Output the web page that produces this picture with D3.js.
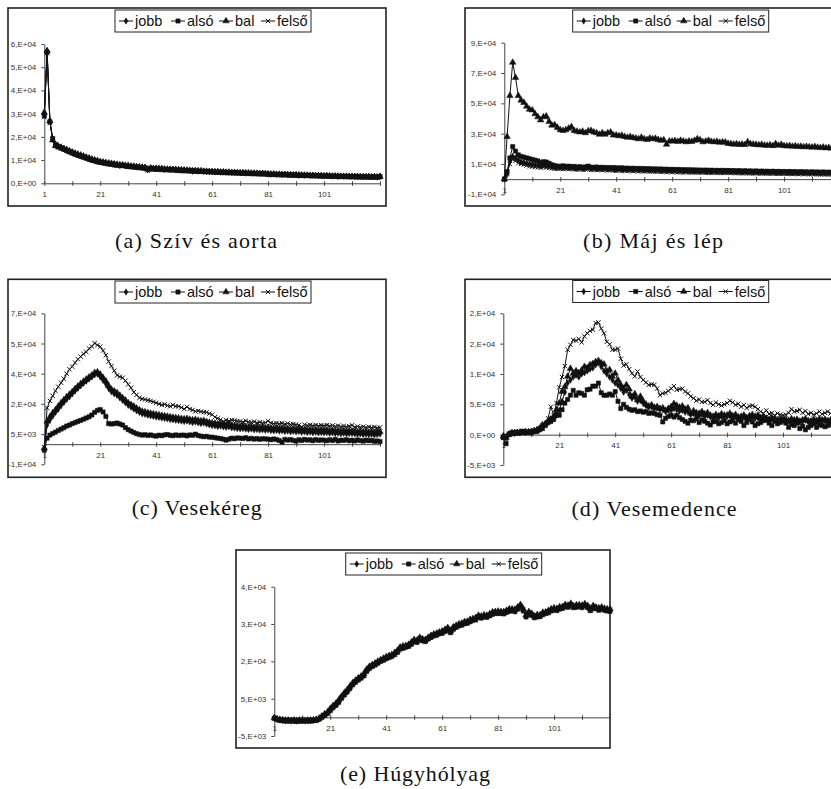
<!DOCTYPE html>
<html>
<head>
<meta charset="utf-8">
<script src="https://cdn.jsdelivr.net/npm/d3@7"></script>
<style>
  body { margin: 0; background: #fff; }
  .tick text { font-family: "Liberation Sans", Arial, sans-serif; font-size: 8px; fill: #333; }
  .legend text { font-family: "Liberation Sans", Arial, sans-serif; font-size: 14.5px; fill: #111; }
  .caption { font-family: "Liberation Serif", "DejaVu Serif", serif; font-size: 22px; fill: #111; }
</style>
</head>
<body>
<svg id="chart" width="831" height="789"></svg>
<script>
// values are in thousands (1 = 1,E+03)
var seriesNames = ["jobb", "alsó", "bal", "felső"];
var xLabelVals = [1, 21, 41, 61, 81, 101];

// (a) Szív és aorta
var aTicks = [0, 10, 20, 30, 40, 50, 60];
var aLabels = ["0,E+00", "1,E+04", "2,E+04", "3,E+04", "4,E+04", "5,E+04", "6,E+04"];
var aJobb = [30,57,27,19,16.5,16,15.5,15,14.3,13.8, 13.2,12.8,12.3,12,11.5,11,10.6,10.2,9.9,9.5,
  9.2,9,8.9,8.6,8.4,8.2,8,7.7,8,7.6, 7.5,7.4,7.2,7,7.1,6.8,6.9,5.8,6.5,6.4,
  6.3,6.2,6.4,6,6.1,5.9,6,5.8,5.9,5.6, 5.7,5.5,5.6,5.2,5.5,5.3,5.4,5.2,5,5.1,
  5,4.9,5,4.8,4.9,4.7,4.8,4.6,4.7,4.6, 4.5,4.6,4.4,4.5,4.3,4.4,4.3,4.2,4.4,4.2,
  4,3.9,4,3.8,3.9,3.8,3.9,3.7,3.8,3.6, 3.7,3.5,3.6,3.5,3.6,3.4,3.5,3.4,3.3,3.4,
  3.2,3.3,3.2,3.1,3.2,3,3.1,3,3.1,2.9, 3,2.9,3,2.8,2.9,2.8,2.9,2.8,2.9,2.7,3];
var aAlso = [29,56.5,26.5,19.3,16.8,15.7,15.2,14.6,14,13.5, 13,12.5,12,11.6,11.2,10.8,10.3,9.9,9.6,9.2,
  9,8.8,8.5,8.3,8.2,7.9,7.8,7.6,7.7,7.4, 7.2,7.1,7,6.9,6.7,6.6,6.5,6.2,6.3,6.1,
  6,6.1,5.9,5.8,5.9,5.7,5.8,5.6,5.5,5.6, 5.4,5.5,5.3,5.4,5.2,5.1,5.2,5,5.1,4.9,
  4.9,4.8,4.7,4.8,4.6,4.7,4.5,4.6,4.4,4.5, 4.4,4.3,4.4,4.2,4.3,4.1,4.2,4.1,4,4.1,
  3.9,3.8,3.9,3.7,3.8,3.6,3.7,3.6,3.5,3.6, 3.5,3.4,3.5,3.3,3.4,3.3,3.2,3.3,3.2,3.1,
  3.1,3.2,3,3.1,3,2.9,3,2.9,2.8,2.9, 2.8,2.9,2.7,2.8,2.7,2.8,2.7,2.6,2.7,2.6,2.8];
var aBal = [30.5,57,26.8,18.6,16.2,15.9,15.4,14.9,14.5,13.9, 13.4,12.9,12.5,12.1,11.7,11.2,10.8,10.4,10,9.7,
  9.3,9.1,8.8,8.7,8.5,8.3,8.1,7.9,7.8,7.6, 7.6,7.3,7.3,7.1,6.9,6.9,6.7,6,6.6,6.3,
  6.4,6.3,6.2,6.1,6,6,5.9,5.9,5.7,5.7, 5.6,5.6,5.4,5.4,5.3,5.3,5.2,5.1,5.1,5,
  5,4.9,4.9,4.8,4.8,4.7,4.7,4.6,4.6,4.5, 4.5,4.4,4.4,4.3,4.3,4.2,4.2,4.1,4.1,4,
  4,3.9,3.9,3.8,3.8,3.7,3.7,3.6,3.6,3.5, 3.5,3.5,3.4,3.4,3.3,3.3,3.3,3.2,3.2,3.2,
  3.1,3.1,3.1,3,3,3,2.9,2.9,2.9,2.9, 2.8,2.8,2.8,2.8,2.7,2.7,2.7,2.7,2.7,2.6,2.9];
var aFelso = [28.5,56,26,19,16,15.5,15,14.8,14.2,13.6, 13.1,12.6,12.1,11.8,11.3,10.9,10.5,10.1,9.7,9.4,
  9.1,8.9,8.7,8.4,8.3,8.1,7.8,7.5,7.9,7.5, 7.4,7.2,7.1,6.8,7,6.7,6.8,5.5,6.4,6.2,
  6.2,6,6.3,5.9,6,5.8,5.9,5.7,5.8,5.5, 5.6,5.4,5.5,5.1,5.4,5.2,5.3,5.1,4.9,5,
  4.9,4.8,4.9,4.7,4.8,4.6,4.7,4.5,4.6,4.5, 4.4,4.5,4.3,4.4,4.2,4.3,4.2,4.1,4.3,4.1,
  3.9,3.8,3.9,3.7,3.8,3.7,3.8,3.6,3.7,3.5, 3.6,3.4,3.5,3.4,3.5,3.3,3.4,3.3,3.2,3.3,
  3.1,3.2,3.1,3,3.1,2.9,3,2.9,3,2.8, 2.9,2.8,2.9,2.7,2.8,2.7,2.8,2.7,2.8,2.6,2.9];

// (b) Máj és lép
var bTicks = [-10, 10, 30, 50, 70, 90];
var bLabels = ["-1,E+04", "1,E+04", "3,E+04", "5,E+04", "7,E+04", "9,E+04"];
var bJobb = [0,3,12,15,14,12.5,11.5,11,10.5,10, 9.8,9.5,9.2,9,9.3,9.1,8.7,8.3,8,7.8,
  7.9,7.6,7.8,7.5,7.7,7.4,7.2,7.5,7.1,7.3, 7.6,7,7.2,6.9,7.1,6.8,7,6.7,6.9,6.6,
  6.5,6.7,6.4,6.6,6.3,6.5,6.2,6.4,6.1,6.3, 6,6.2,5.9,6.1,5.8,6,5.7,5.9,5.6,5.8,
  5.5,5.7,5.4,5.6,5.3,5.5,5.3,5.4,5.2,5.4, 5.2,5.3,5.1,5.3,5,5.2,5,5.1,4.9,5.1,
  5,4.9,5,4.8,4.9,4.7,4.9,4.7,4.8,4.6, 4.7,4.5,4.7,4.5,4.6,4.4,4.6,4.4,4.5,4.3,
  4.4,4.3,4.4,4.2,4.3,4.1,4.3,4.1,4.2,4, 4.2,4,4.1,3.9,4.1,3.9,4,3.8,4,3.8,4];
var bAlso = [0,5,14,21.5,18.5,16,15,14.5,14,13.5, 13,12.5,12,11,11.5,11.3,10.5,9.5,9,8.5,
  8.5,8.8,8.3,8.6,8.1,8.4,7.9,8.2,7.8,8.1, 8.6,7.9,7.7,8,7.6,7.8,7.5,7.7,7.4,7.6,
  7.5,7.3,7.5,7.1,7.3,7,7.2,6.9,7.1,6.8, 7,6.7,6.9,6.6,6.8,6.5,6.7,6.4,6.6,6.3,
  6.5,6.2,6.4,6.1,6.3,6,6.2,6,6.1,5.9, 6,5.8,6,5.7,5.9,5.7,5.8,5.6,5.8,5.5,
  5.7,5.5,5.6,5.4,5.6,5.3,5.5,5.3,5.4,5.2, 5.4,5.1,5.3,5.1,5.2,5,5.2,4.9,5.1,4.9,
  5,4.8,5,4.8,4.9,4.7,4.9,4.7,4.8,4.6, 4.8,4.6,4.7,4.5,4.7,4.5,4.6,4.4,4.6,4.4,4.6];
var bBal = [0,28,55,77,67,55,52,50.5,48,46, 45.5,43,41,39,41,41.5,38,35.5,35.8,34,
  32.5,32,32.5,33.5,34.5,32,31.5,31,31.5,30.5, 31.8,32,31,30.5,29.5,30.5,29.5,30.5,31,29,
  29,28.5,28.8,28,27.5,28,27.3,27,26.5,27.5, 26.5,26,27,26.5,26.8,26,25.5,25.8,23,25,
  25,25.3,24.8,25.5,25,24.5,25,24.8,25.5,26.5, 25.8,24.5,25,25.5,24.8,24.5,24.8,24.2,24.5,24.3,
  23.5,23.3,23,23.2,22.8,23,22.7,24.5,23.2,23, 22.8,22.5,22.8,22.3,22.2,22.5,22,23.3,22.2,22.8,
  22,21.8,22,21.6,21.8,21.4,21.6,21.2,21.5,21.2, 21,21.4,20.9,20.7,21,20.5,20.8,20.3,20.6,20.4,20.8];
var bFelso = [0,4,10,13,12,10.5,10,9.5,9,8.5, 8.3,8,7.8,7.6,7.9,7.7,7.4,7.1,6.9,6.8,
  7,6.7,6.9,6.6,6.8,6.5,6.3,6.6,6.2,6.4, 6.7,6.1,6.3,6,6.2,5.9,6.1,5.8,6,5.7,
  5.5,5.8,5.4,5.7,5.3,5.6,5.2,5.5,5.1,5.4, 5.1,5.3,5,5.2,4.9,5.1,4.8,5,4.7,4.9,
  4.6,4.8,4.5,4.7,4.4,4.6,4.4,4.5,4.3,4.5, 4.3,4.4,4.2,4.4,4.1,4.3,4.1,4.2,4,4.2,
  4.2,4,4.1,3.9,4,3.8,4,3.8,3.9,3.7, 3.9,3.7,3.8,3.6,3.8,3.6,3.7,3.5,3.7,3.5,
  3.6,3.4,3.6,3.4,3.5,3.3,3.5,3.3,3.4,3.2, 3.4,3.2,3.3,3.1,3.3,3.1,3.2,3,3.2,3,3.3];

// (c) Vesekéreg
var cTicks = [-10, 5, 20, 35, 50, 65];
var cLabels = ["-1,E+04", "5,E+03", "2,E+04", "4,E+04", "5,E+04", "7,E+04"];
var cJobb = [-2.5,9.5,12,14,15.8,17.5,19.2,20.8,22.3,23.6, 25,26.5,27.8,29,30.3,31.3,32.4,33.4,34.5,34.8,
  33.5,31.8,30,27.8,26,25,24.3,23,21.8,20.6, 19.3,18.4,17.5,16.6,15.8,15.1,14.8,14.4,14.1,13.8,
  13.5,13.3,13,12.8,12.6,12.3,12.1,11.9,11.7,11.5, 11.3,11.5,11.1,10.8,11,10.6,10.3,10.5,10,9.6,
  9.3,9.1,8.8,9,8.6,8.4,8.6,8.2,8,7.8, 7.6,7.8,7.5,7.3,7.5,7.1,7.3,7,7.2,6.9,
  7.1,6.8,6.6,6.8,6.5,6.7,6.3,6.5,6.2,6.4, 6.1,6.3,5.9,6.1,5.8,6,5.7,5.9,5.6,5.8,
  5.6,5.8,5.4,5.6,5.3,5.5,5.2,5.4,5.1,5.3, 5.3,5.1,4.9,5.1,4.8,5,4.7,4.9,4.6,4.8,5];
var cAlso = [-3,3,4.5,5.3,6,6.8,7.5,8.2,9,9.5, 10.2,10.7,11.3,11.8,12.4,13,13.6,14.5,15.8,16.8,
  17.2,16,13.8,10.2,10,10.2,10.5,10,9.5,8.2, 7.2,6.5,5.8,5.2,4.8,4.5,4.7,4.3,4.6,4.2,
  4,4.5,4.2,4.6,4.8,4.4,4.2,4.6,4.3,4.5, 4.5,4.1,4.6,4.4,5,4.3,4,3.7,3.9,3.5,
  3.5,3.2,3,2.8,2.5,2,2.5,3,2.7,3.1, 3,2.8,3.2,2.6,2.9,2.5,2.8,2.4,2.7,2.6,
  2.5,2.2,2.6,2.3,1.8,1,2.4,2,2.3,1.9, 1.5,2.2,1.8,2.4,2,2.2,1.7,2.3,1.9,2.1,
  2,1.7,2.2,1.8,2.4,1.6,2,1.9,2.2,1.7, 2,1.6,2.1,1.8,1.5,2,1.7,1.9,1.4,1.6,1.3];
var cBal = [-2,11.3,13.5,15.5,17,18.8,20.5,22,23.5,24.7, 26,27.5,28.8,30,31.2,32.2,33.3,34.3,35.5,35.8,
  34.7,33,31.3,29,27.2,26.3,25.5,24.2,23,21.8, 20.5,19.6,18.8,17.8,17,16.3,16,15.6,15.3,15,
  14.7,14.5,14.2,14,13.8,13.5,13.3,13.1,12.9,12.7, 12.5,12.7,12.3,12,12.2,11.8,11.5,11.7,11.2,10.8,
  10.5,10.3,10,10.2,9.8,9.6,9.8,9.4,9.2,9, 8.8,9,8.7,8.5,8.7,8.3,8.5,8.2,8.4,8.1,
  8.3,8,7.8,8,7.7,7.9,7.5,7.7,7.4,7.6, 7.3,7.5,7.1,7.3,7,7.2,6.9,7.1,6.8,7,
  6.8,7,6.6,6.8,6.5,6.7,6.4,6.6,6.3,6.5, 6.5,6.3,6.1,6.3,6,6.2,5.9,6.1,5.8,6,6.2];
var cFelso = [-1.5,18,21.5,24,26.5,28.5,30.5,32.5,35,37.2, 38.5,40.5,42.2,43.5,44.8,45.8,47.5,48.5,50.2,49.2,
  48.5,46.5,44.2,41,38.8,36.5,34.2,33.5,33,31.5, 29.7,28,25.8,24.5,23,22.5,22.2,21.8,21.5,21,
  20.5,20,19.5,19.8,19.2,18.8,19.5,18.8,18.8,18.2, 17.5,18.5,17.5,17,16.3,16.5,16.2,15.9,15.8,15.2,
  14.7,13.5,12.8,12.2,11.3,12,11.5,12,11.8,11.5, 11.3,11,11.6,11,10.8,11.2,10.6,10.9,10.5,10.7,
  11.5,10.6,10.2,10.5,10.1,10.4,9.9,10.3,9.8,10, 9.7,9.5,8.6,9.7,9.3,9.6,9.2,9.5,9.1,9.4,
  9.2,9.5,9,9.3,8.8,9.2,8.7,9,8.6,8.9, 9.4,8.5,8.8,8.4,8.7,8.3,8.6,8.2,8.5,8.1,8.3];

// (d) Vesemedence
var dTicks = [-5, 0, 5, 10, 15, 20];
var dLabels = ["-5,E+03", "0,E+00", "5,E+03", "1,E+04", "2,E+04", "2,E+04"];
var dJobb = [-0.2,-0.3,0.1,0.3,0.2,0.4,0.3,0.5,0.4,0.5, 0.4,0.6,0.8,1.1,1.4,1.7,2.2,2.6,2.9,3.4,
  4,5.5,7,8.5,9,9.5,9.8,9.5,10,10.2, 10.5,10.8,11,11.5,11.8,11.2,10.5,10,9.5,9,
  8.5,8.2,7.6,7,7.3,6.6,6,6.2,5.5,5.7, 5.2,4.8,4.5,4.6,4.3,4.4,4.1,4.2,3.8,4,
  4,4.3,4.1,3.9,4,3.7,3.8,3.3,3.5,3.2, 3.1,3.3,3,3.2,2.9,2.8,3,2.8,3,2.9,
  3,3.1,2.8,3,2.7,2.8,2.9,2.6,2.8,2.9, 2.7,2.8,2.5,2.7,2.5,2.3,2.6,2.4,2.3,2.4,
  2.5,2.3,2.2,2.4,2.2,2.3,2.1,2.2,2.4,2.1, 2.2,2.3,2.1,2.3,2.2,2.3,2.1,2.2,2.3,2.1,2.2];
var dAlso = [-0.5,-1.5,0,0.3,0.2,0.4,0.3,0.5,0.3,0.4, 0.3,0.5,0.5,0.8,1,1.5,2,2.2,2.5,3.2,
  3.2,4.1,5.2,5.8,6.5,7.3,6.5,6.9,6.8,6.5, 7.4,7.5,8,8,8.5,6.9,6.5,6.5,6.7,6.5,
  7.1,5.5,4.3,5,4.5,4.2,4,4.1,3.8,3.9, 3.7,3.8,3.5,3.6,3.5,3.3,3.2,2.1,2.7,3,
  3.2,2.9,3.2,2.8,2.5,2.2,1.9,2.4,2.3,2.6, 2,2.4,2.2,1.9,1.6,2.1,2.2,1.8,2,2.3,
  1.8,2.1,2.3,1.9,2.5,2.2,1.5,2,2.5,2.1, 1.5,1.8,2,2.3,2.5,1.9,1.5,2.2,1.8,2,
  2.5,1.9,1.2,1.7,1.5,1.9,1,1.4,0.8,1.2, 1.5,1.8,1.2,1.6,1.5,1.3,1.5,1.7,1.5,1.4,1.6];
var dBal = [-0.3,-0.5,0,0.2,0.3,0.2,0.4,0.3,0.5,0.4, 0.5,0.6,0.7,1,1.6,1.8,2.1,2.5,3,4.1,
  5.2,7.1,7.9,9.6,10.9,10.1,10.5,10.2,10.6,11.2, 11,11.5,11.7,12,12.2,11.8,11.6,10.5,10.7,9.6,
  10.1,9,8.2,7.6,8.2,7.5,6.3,6.7,5.7,6.3, 5.5,5,4.7,4.9,4.5,4.6,4.3,4.4,4,4.3,
  4.6,5.1,4.8,4.5,4.7,4.2,4.4,3.5,3.9,3.6, 3.5,3.8,3.4,3.6,3.2,3,3.3,3.1,3.4,3.2,
  3.2,3.5,3.1,3.3,2.9,3,3.2,2.8,3.1,3.3, 3,3.2,2.8,3,2.7,2.5,2.8,2.6,2.4,2.6,
  2.2,2.5,2.3,2.6,2.4,2.5,2.2,2.4,2.6,2.3, 2.2,2.5,2.3,2.6,2.4,2.5,2.3,2.4,2.6,2.3,2.5];
var dFelso = [-0.5,-0.8,0.2,0.3,0.5,0.4,0.3,0.6,0.5,0.4, 0.6,0.7,0.8,1,1.5,1.6,2.7,4.6,3.2,5.2,
  7.8,9.5,11.3,14,14.8,15.6,15.5,15.8,15.2,16.2, 16.7,17.1,17.3,18.4,18.5,17.5,16.7,15.3,14.9,14,
  14,14.2,12.5,11.4,11.6,10.8,10.1,9.6,10.4,9.5, 9,8.6,8.2,8.3,8.2,7.6,6.5,6.8,6.9,7.2,
  7.6,8,7.4,7.5,7.6,7.1,6.8,6.3,6,5.6, 5.8,5.4,5.4,5.7,5.2,4.9,5.3,5,4.8,5,
  5.2,5.6,5.3,4.9,5.1,4.6,4.9,4.4,4.7,4.8, 4.6,4.2,3.8,3.5,4,3.4,3.6,3.2,3.5,3.3,
  3.2,3.3,3.6,4.2,3.8,3.9,4.1,3.6,3.9,3.4, 3.6,3.3,3.5,3.8,3.4,3.6,3.8,3.5,3.7,3.4,3.6];

// (e) Húgyhólyag
var eTicks = [-5, 5, 15, 25, 35];
var eLabels = ["-5,E+03", "5,E+03", "2,E+04", "3,E+04", "4,E+04"];
var eJobb = [-0.2,-0.5,-0.7,-0.8,-0.9,-0.9,-1,-0.9,-1,-0.9, -0.9,-1,-0.9,-0.9,-0.8,-0.7,-0.4,0.2,0.7,1.2,
  2.1,2.9,3.4,4.3,5.4,6.3,7,8,9,9.6, 10.3,10.7,11.4,12.6,13.4,13.8,14.3,14.7,15.2,15.6,
  15.9,16.3,16.5,17,17.7,18.6,18.8,19,19.2,19.9, 20.6,20.3,21.2,20.7,20.6,21.2,21.7,22,22.3,22.6,
  22.8,23.3,23.7,22.9,23.9,24.4,24.7,25,25.3,25.5, 25.9,26.2,26.4,27.1,26.8,27.2,27,27.5,27.9,28.1,
  28.1,28.1,28,28.4,28.7,28.8,28.6,29.3,29.9,28.8, 27.1,28.1,27.5,26.9,27.2,27.2,27.8,28,28.3,28.8,
  29,28.9,29.3,29.4,29.9,29.8,30.2,29.6,29.8,29.9, 29.7,30.2,29.6,28.8,29.6,29.3,29,29.3,28.9,28.8,28.7];
var eAlso = [-0.3,-0.6,-0.8,-0.9,-1,-1,-0.9,-1,-1.1,-1, -1,-0.9,-1,-1,-0.9,-0.8,-0.5,0,0.5,1,
  1.8,2.6,3.2,4,5.1,6,6.8,7.7,8.7,9.4, 10,10.5,11.1,12.3,13.1,13.6,14,14.5,15,15.3,
  15.7,16,16.3,16.8,17.4,18.3,18.5,18.8,19,19.6, 20.3,20.1,20.9,20.5,20.3,21,21.4,21.8,22,22.4,
  22.5,23,23.4,22.7,23.6,24.1,24.5,24.7,25.1,25.2, 25.6,26,26.1,26.8,26.6,26.9,26.8,27.2,27.6,27.9,
  27.8,27.9,27.7,28.1,28.4,28.6,28.3,29,29.6,28.5, 26.9,27.8,27.3,26.7,26.9,27,27.5,27.8,28,28.5,
  28.8,28.6,29,29.2,29.6,29.5,29.9,29.4,29.5,29.7, 29.4,29.9,29.4,28.6,29.3,29.1,28.7,29,28.7,28.5,28.4];
var eBal = [-0.1,-0.4,-0.6,-0.7,-0.8,-0.8,-0.9,-0.8,-0.9,-0.8, -0.8,-0.9,-0.8,-0.8,-0.7,-0.6,-0.3,0.3,0.9,1.4,
  2.3,3.1,3.7,4.6,5.6,6.5,7.3,8.3,9.2,9.9, 10.5,11,11.7,12.8,13.6,14.1,14.5,15,15.4,15.8,
  16.2,16.5,16.8,17.3,17.9,18.8,19.1,19.2,19.5,20.1, 20.8,20.6,21.4,21,20.8,21.4,21.9,22.3,22.5,22.8,
  23.1,23.5,24,23.1,24.2,24.6,25,25.2,25.6,25.7, 26.2,26.4,26.7,27.3,27.1,27.4,27.3,27.7,28.2,28.3,
  28.4,28.3,28.3,28.6,29,29,28.9,29.5,30.2,29, 27.4,28.3,27.8,27.1,27.5,27.4,28.1,28.2,28.6,29,
  29.3,29.1,29.6,29.6,30.2,30,30.5,29.8,30.1,30.1, 30,30.4,29.9,29,29.9,29.5,29.3,29.5,29.2,29,29];
var eFelso = [-0.2,-0.5,-0.8,-0.8,-0.9,-1,-1,-0.9,-1,-1, -0.9,-1,-1,-0.9,-0.8,-0.8,-0.4,0.1,0.6,1.1,
  2,2.8,3.5,4.2,5.3,6.2,7.1,7.9,8.9,9.7, 10.2,10.8,11.3,12.5,13.3,13.9,14.2,14.8,15.1,15.5,
  16,16.2,16.6,16.9,17.6,18.5,18.9,18.9,19.3,19.8, 20.5,20.4,21.1,20.8,20.5,21.1,21.6,22.1,22.2,22.7,
  22.7,23.2,23.8,22.8,23.8,24.3,24.8,24.9,25.2,25.6, 25.8,26.3,26.3,27,26.9,27.1,27.1,27.4,27.8,28.2,
  28,28.2,27.9,28.3,28.8,28.7,28.7,29.2,29.8,28.9, 27.2,28,27.6,26.8,27.3,27.1,27.9,27.9,28.4,28.7,
  29.1,28.8,29.4,29.3,30,29.7,30.3,29.5,29.9,29.8, 29.8,30.1,29.7,28.7,29.7,29.2,29.1,29.2,29,28.7,28.8];

var svg = d3.select("#chart");
var symbols = [d3.symbolDiamond, d3.symbolSquare, d3.symbolTriangle, d3.symbolTimes || d3.symbolCross];
var symSize = [12, 18, 18, 14];

var panels = [
  {fx: 8, fy: 8, fw: 378, ax: 44.3, top: 44, bot: 183.3, dom: [0, 60], ticks: aTicks, labels: aLabels,
   data: [aJobb, aAlso, aBal, aFelso], lx: 115, ly: 10, cap: "(a) Szív és aorta", cx: 196, cy: 248, cw: 162},
  {fx: 465, fy: 8, fw: 378, ax: 504.3, top: 42.7, bot: 194.3, dom: [-10, 90], ticks: bTicks, labels: bLabels,
   data: [bJobb, bAlso, bBal, bFelso], lx: 572.7, ly: 10, cap: "(b) Máj és lép", cx: 653, cy: 248, cw: 140},
  {fx: 8, fy: 279.3, fw: 378, ax: 44.3, top: 313.3, bot: 464.3, dom: [-10, 65], ticks: cTicks, labels: cLabels,
   data: [cJobb, cAlso, cBal, cFelso], lx: 115, ly: 281, cap: "(c) Vesekéreg", cx: 196.7, cy: 515, cw: 130},
  {fx: 465, fy: 279.3, fw: 378, ax: 503.3, top: 313.3, bot: 465, dom: [-5, 20], ticks: dTicks, labels: dLabels,
   data: [dJobb, dAlso, dBal, dFelso], lx: 572.7, ly: 280.5, cap: "(d) Vesemedence", cx: 654, cy: 516, cw: 165},
  {fx: 236, fy: 550, fw: 374, ax: 274.3, top: 586.7, bot: 736, dom: [-5, 35], ticks: eTicks, labels: eLabels,
   data: [eJobb, eAlso, eBal, eFelso], lx: 345.7, ly: 553, cap: "(e) Húgyhólyag", cx: 415, cy: 781, cw: 150}
];

function drawPanel(p) {
  var g = svg.append("g");

  g.append("rect")
    .attr("x", p.fx).attr("y", p.fy)
    .attr("width", p.fw).attr("height", 198)
    .attr("fill", "#fff").attr("stroke", "#222").attr("stroke-width", 1.6);

  var n = p.data[0].length;
  var x = d3.scaleLinear().domain([1, n]).range([p.ax, p.ax + 335.7]);
  var y = d3.scaleLinear().domain(p.dom).range([p.bot, p.top]);

  // y axis
  var ya = g.append("g")
    .attr("transform", "translate(" + p.ax + ",0)")
    .call(d3.axisLeft(y).tickValues(p.ticks)
      .tickFormat(function(d, i) { return p.labels[i]; })
      .tickSizeInner(3).tickSizeOuter(0).tickPadding(5));
  ya.select(".domain").attr("stroke", "#444");
  ya.selectAll(".tick line").attr("stroke", "#444");

  // x axis crossing at zero
  var xa = g.append("g")
    .attr("transform", "translate(0," + y(Math.max(0, p.dom[0])) + ")")
    .call(d3.axisBottom(x).tickValues(d3.range(1, n + 1, 10))
      .tickFormat(function(d) { return xLabelVals.indexOf(d) !== -1 ? d : ""; })
      .tickSizeInner(2).tickSizeOuter(0).tickPadding(6));
  xa.select(".domain").attr("stroke", "#444");
  xa.selectAll(".tick line").attr("y1", -2).attr("y2", 2.5).attr("stroke", "#444");

  var line = d3.line()
    .x(function(d, i) { return x(i + 1); })
    .y(function(d) { return y(d); });

  p.data.forEach(function(vals, s) {
    var sg = g.append("g").attr("class", "series");
    sg.append("path")
      .attr("d", line(vals))
      .attr("fill", "none").attr("stroke", "#111").attr("stroke-width", 1);
    var sym = d3.symbol().type(symbols[s]).size(symSize[s]);
    sg.selectAll("path.mk").data(vals).enter().append("path")
      .attr("class", "mk")
      .attr("d", sym)
      .attr("transform", function(d, i) { return "translate(" + x(i + 1) + "," + y(d) + ")"; })
      .attr("fill", s === 3 ? "none" : "#111")
      .attr("stroke", "#111").attr("stroke-width", s === 3 ? 1 : 0.5);
  });

  // legend
  var lg = g.append("g").attr("class", "legend").attr("transform", "translate(" + p.lx + "," + p.ly + ")");
  lg.append("rect").attr("width", 196).attr("height", 22)
    .attr("fill", "#fff").attr("stroke", "#222").attr("stroke-width", 1);
  var offs = [4, 56, 104, 146];
  seriesNames.forEach(function(name, s) {
    var it = lg.append("g").attr("transform", "translate(" + offs[s] + ",11)");
    it.append("line").attr("x1", 0).attr("x2", 14).attr("stroke", "#111").attr("stroke-width", 1);
    it.append("path").attr("d", d3.symbol().type(symbols[s]).size(symSize[s])())
      .attr("transform", "translate(7,0)")
      .attr("fill", s === 3 ? "none" : "#111").attr("stroke", "#111").attr("stroke-width", s === 3 ? 1 : 0.5);
    it.append("text").attr("x", 16).attr("y", 5).text(name);
  });

  // caption
  svg.append("text").attr("class", "caption")
    .attr("x", p.cx - p.cw / 2).attr("y", p.cy)
    .attr("textLength", p.cw).attr("lengthAdjust", "spacing")
    .text(p.cap);
}

panels.forEach(drawPanel);
</script>
</body>
</html>
